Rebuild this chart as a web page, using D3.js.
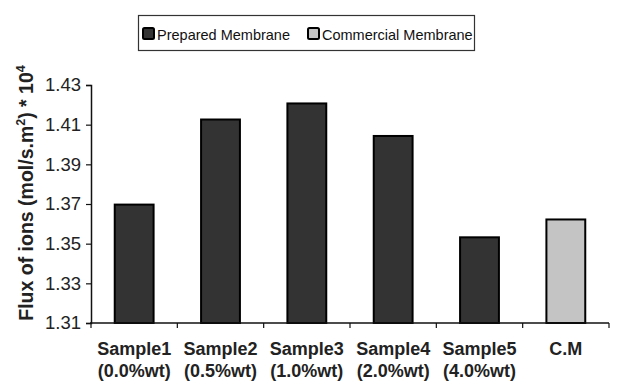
<!DOCTYPE html>
<html><head><meta charset="utf-8">
<script src="https://cdn.jsdelivr.net/npm/d3@7"></script>
<style>body{margin:0;background:#fff}svg{display:block;font-family:Arial,"Liberation Sans",sans-serif}</style>
</head><body><svg id="c" width="627" height="384"></svg>
<script>
const categories = ["Sample1", "Sample2", "Sample3", "Sample4", "Sample5", "C.M"];
const subLabels = ["(0.0%wt)", "(0.5%wt)", "(1.0%wt)", "(2.0%wt)", "(4.0%wt)", ""];
const fluxValues = [1.3697, 1.4126, 1.4207, 1.4043, 1.3532, 1.3622];
const seriesOf = ["Prepared Membrane", "Prepared Membrane", "Prepared Membrane", "Prepared Membrane", "Prepared Membrane", "Commercial Membrane"];
const legendNames = ["Prepared Membrane", "Commercial Membrane"];
const yTicks = [1.31, 1.33, 1.35, 1.37, 1.39, 1.41, 1.43];

const svg = d3.select("#c");
const m = {left: 91, right: 18, top: 85, bottom: 61};
const W = 627, H = 384;
const x = d3.scaleBand().domain(categories).range([m.left, W - m.right]).paddingInner(0.55).paddingOuter(0.275);
const xb = d3.scaleBand().domain(categories).range([m.left, W - m.right]);
const y = d3.scaleLinear().domain([1.31, 1.43]).range([H - m.bottom, m.top]);
const color = d3.scaleOrdinal().domain(legendNames).range(["#333333", "#c4c4c4"]);

// bars
svg.append("g").selectAll("rect").data(categories).join("rect")
  .attr("x", d => x(d)).attr("width", x.bandwidth())
  .attr("y", (d, i) => y(fluxValues[i])).attr("height", (d, i) => y(1.31) - y(fluxValues[i]))
  .attr("fill", (d, i) => color(seriesOf[i])).attr("stroke", "#000").attr("stroke-width", 2);

// y axis
const ya = svg.append("g").attr("transform", `translate(${m.left},0)`)
  .call(d3.axisLeft(y).tickValues(yTicks).tickFormat(d3.format(".2f")).tickSize(5).tickPadding(5));
ya.select(".domain").attr("stroke", "#111").attr("stroke-width", 1.5);
ya.selectAll(".tick line").attr("stroke", "#111").attr("stroke-width", 1.2);
ya.selectAll("text").attr("font-size", 18.5).attr("fill", "#222").attr("font-family", "Arial, 'Liberation Sans', sans-serif");

// x axis
const boundaries = categories.map(c => xb(c)).concat([W - m.right]);
const xa = svg.append("g").attr("transform", `translate(0,${H - m.bottom})`);
xa.append("line").attr("x1", m.left - 1).attr("x2", W - m.right).attr("stroke", "#111").attr("stroke-width", 1.5);
xa.selectAll("line.t").data(boundaries).join("line").attr("class", "t")
  .attr("x1", d => d).attr("x2", d => d).attr("y1", 0).attr("y2", 5).attr("stroke", "#111").attr("stroke-width", 1.2);
const lab = xa.selectAll("text").data(categories).join("text")
  .attr("text-anchor", "middle").attr("font-weight", "bold").attr("font-size", 18).attr("fill", "#222")
  .attr("transform", d => `translate(${xb(d) + xb.bandwidth() / 2},0)`);
lab.append("tspan").attr("x", 0).attr("y", 32).text(d => d);
lab.append("tspan").attr("x", 0).attr("y", 54).text((d, i) => subLabels[i]);

// y label
const yl = svg.append("text").attr("transform", `translate(33,193) rotate(-90)`)
  .attr("text-anchor", "middle").attr("font-weight", "bold").attr("font-size", 19.5).attr("fill", "#222");
yl.append("tspan").text("Flux of ions (mol/s.m");
yl.append("tspan").attr("font-size", 12.5).attr("dy", -8).text("2");
yl.append("tspan").attr("dy", 8).text(") * 10");
yl.append("tspan").attr("font-size", 12.5).attr("dy", -8).text("4");

// legend
const lg = svg.append("g");
lg.append("rect").attr("x", 138.5).attr("y", 15.5).attr("width", 336).attr("height", 35).attr("fill", "#fff").attr("stroke", "#333").attr("stroke-width", 1.2);
const items = [{n: legendNames[0], x: 143}, {n: legendNames[1], x: 308}];
items.forEach(it => {
  lg.append("rect").attr("x", it.x).attr("y", 28).attr("width", 11).attr("height", 11).attr("rx", 1.5)
    .attr("fill", color(it.n)).attr("stroke", "#000").attr("stroke-width", 2);
  lg.append("text").attr("x", it.x + 14).attr("y", 39.5).attr("font-size", 14.5).attr("fill", "#111").text(it.n);
});
</script></body></html>
